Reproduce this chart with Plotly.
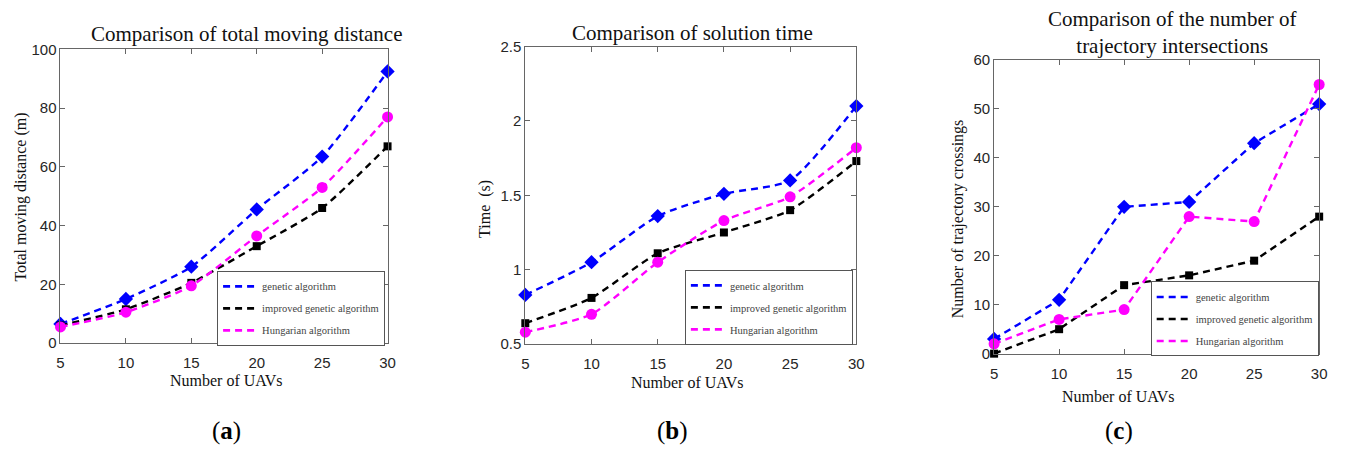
import plotly.graph_objects as go

W, H = 1346, 456

uavs = [5, 10, 15, 20, 25, 30]
series_names = ["genetic algorithm", "improved genetic algorithm", "Hungarian algorithm"]

dist_genetic = [6.5, 15, 26, 45.5, 63.5, 92.5]
dist_improved = [6, 11.5, 20.5, 33, 46, 67]
dist_hungarian = [5.5, 10.5, 19.5, 36.5, 53, 77]

time_genetic = [0.83, 1.05, 1.36, 1.51, 1.60, 2.10]
time_improved = [0.64, 0.81, 1.11, 1.25, 1.40, 1.73]
time_hungarian = [0.58, 0.70, 1.05, 1.33, 1.49, 1.82]

cross_genetic = [3, 11, 30, 31, 43, 51]
cross_improved = [0, 5, 14, 16, 19, 28]
cross_hungarian = [2, 7, 9, 28, 27, 55]

titles = ["Comparison of total moving distance", "Comparison of solution time",
          "Comparison of the number of<br>trajectory intersections"]
ytitles = ["Total moving distance (m)", "Time  (s)", "Number of trajectory crossings"]
xtitle = "Number of UAVs"
panel_labels = ["(<b>a</b>)", "(<b>b</b>)", "(<b>c</b>)"]

colors = ["#0000FF", "#000000", "#FF00FF"]
symbols = ["diamond", "square", "circle"]
msizes = [11, 8, 11]
DASH = "7px,5px"

SERIF = "Liberation Serif"
SANS = "Liberation Sans"

# plot-area boxes in pixels: (left, right, top, bottom)
boxes = [(57, 387, 42, 347), (526, 860, 39, 348), (999, 1327, 53, 358)]
yranges = [[0, 100], [0.5, 2.5], [0, 60]]
ytickvals = [[0, 20, 40, 60, 80, 100], [0.5, 1, 1.5, 2, 2.5], [0, 10, 20, 30, 40, 50, 60]]
yticktext = [["0", "20", "40", "60", "80", "100"], ["0.5", "1", "1.5", "2", "2.5"],
             ["0", "10", "20", "30", "40", "50", "60"]]
shapes_line = ["spline", "spline", "linear"]

data = [
    [dist_genetic, dist_improved, dist_hungarian],
    [time_genetic, time_improved, time_hungarian],
    [cross_genetic, cross_improved, cross_hungarian],
]

fig = go.Figure()
layout = dict(
    width=W, height=H, margin=dict(l=0, r=0, t=0, b=0),
    paper_bgcolor="white", plot_bgcolor="white", showlegend=True,
    annotations=[],
)

def px_x(x):
    return x / W

def px_y(y):
    return 1 - y / H

legend_pos = [(215, 272), (687, 271), (1157, 283)]
title_pos = [(245, 26), (695, 25), (1179, 24)]
ytitle_pos = [(17, 195), (486, 208), (962, 218)]
xtitle_pos = [(225, 386), (690, 388), (1125, 402)]
label_pos = [(225, 438), (675, 438), (1125, 438)]

for i in range(3):
    sfx = "" if i == 0 else str(i + 1)
    xa, ya = "x" + sfx, "y" + sfx
    leg = "legend" + sfx
    for j in range(3):
        fig.add_trace(go.Scatter(
            x=uavs, y=data[i][j], xaxis=xa, yaxis=ya, mode="lines+markers",
            line=dict(color=colors[j], width=2.4, dash=DASH, shape=shapes_line[i], smoothing=0.6),
            marker=dict(symbol=symbols[j], size=msizes[j], color=colors[j]),
            showlegend=False, cliponaxis=False, name=series_names[j]))
    for j in range(3):
        fig.add_trace(go.Scatter(
            x=[None], y=[None], xaxis=xa, yaxis=ya, mode="lines",
            line=dict(color=colors[j], width=2.6, dash=DASH),
            name=series_names[j], legend=leg, showlegend=True, legendgroup=f"g{i}{j}"))
    l, r, t, b = boxes[i]
    layout["xaxis" + sfx] = dict(
        domain=[px_x(l), px_x(r)], anchor=ya, range=[5, 30],
        tickvals=uavs, ticktext=[str(u) for u in uavs],
        showline=True, linecolor="#666666", linewidth=1, mirror="ticks",
        ticks="inside", ticklen=5, tickcolor="#666666", showgrid=False, zeroline=False,
        ticklabelstandoff=6,
        tickfont=dict(family=SANS, size=15, color="#262626"))
    layout["yaxis" + sfx] = dict(
        domain=[px_y(b), px_y(t)], anchor=xa, range=yranges[i],
        tickvals=ytickvals[i], ticktext=yticktext[i],
        showline=True, linecolor="#666666", linewidth=1, mirror="ticks",
        ticks="inside", ticklen=5, tickcolor="#666666", showgrid=False, zeroline=False,
        tickfont=dict(family=SANS, size=15, color="#262626"))
    lx, ly = legend_pos[i]
    layout[leg] = dict(
        x=px_x(lx), y=px_y(ly), xanchor="left", yanchor="top",
        xref="paper", yref="paper",
        bgcolor="white", bordercolor="#555555", borderwidth=1,
        font=dict(family=SERIF, size=10.5, color="#444444"),
        itemwidth=34, tracegroupgap=3)
    tx, ty = title_pos[i]
    layout["annotations"].append(dict(
        text=titles[i], x=px_x(tx), y=px_y(ty), xref="paper", yref="paper",
        xanchor="center", yanchor="middle", showarrow=False,
        font=dict(family=SERIF, size=21, color="#111111")))
    yx, yy = ytitle_pos[i]
    layout["annotations"].append(dict(
        text=ytitles[i], x=px_x(yx), y=px_y(yy), xref="paper", yref="paper",
        xanchor="center", yanchor="middle", showarrow=False, textangle=-90,
        font=dict(family=SERIF, size=16, color="#111111")))
    xx, xy = xtitle_pos[i]
    layout["annotations"].append(dict(
        text=xtitle, x=px_x(xx), y=px_y(xy), xref="paper", yref="paper",
        xanchor="center", yanchor="middle", showarrow=False,
        font=dict(family=SERIF, size=16, color="#111111")))
    px_, py_ = label_pos[i]
    layout["annotations"].append(dict(
        text=panel_labels[i], x=px_x(px_), y=px_y(py_), xref="paper", yref="paper",
        xanchor="center", yanchor="middle", showarrow=False,
        font=dict(family=SERIF, size=25, color="#000000")))

fig.update_layout(**layout)
fig.write_html("out.html")
